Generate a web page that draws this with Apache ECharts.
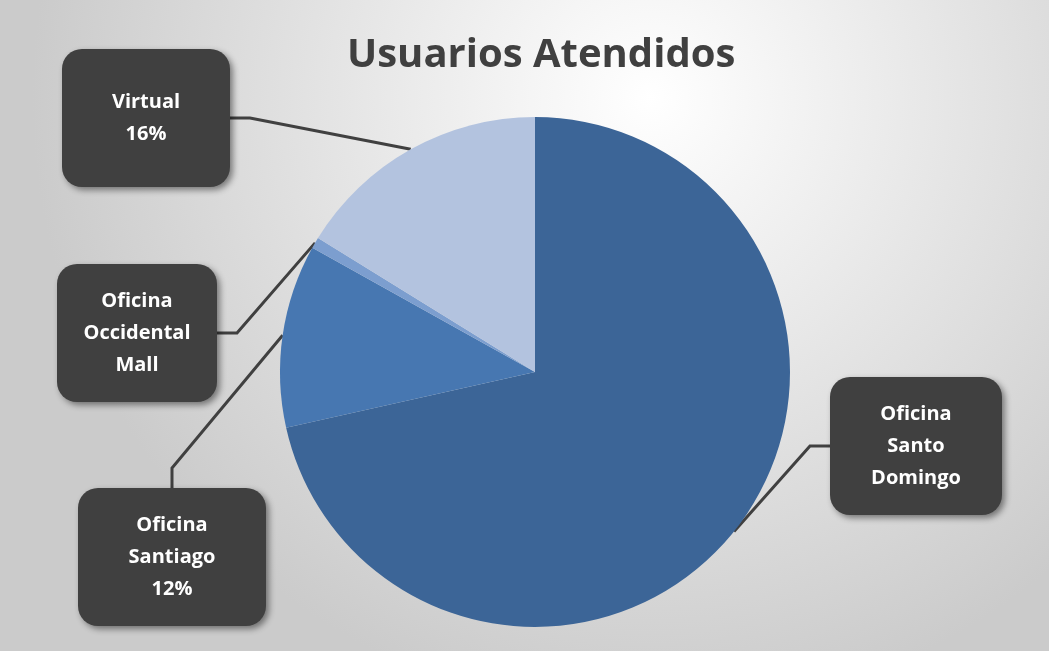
<!DOCTYPE html>
<html>
<head>
<meta charset="utf-8">
<script src="https://cdn.jsdelivr.net/npm/echarts@6/dist/echarts.min.js"></script>
<style>
html,body{margin:0;padding:0;}
#chart{width:1049px;height:651px;}
</style>
</head>
<body>
<div id="chart"></div>
<script>
// datos del grafico
let categorias = ["Oficina Santo Domingo", "Oficina Santiago", "Oficina Occidental Mall", "Virtual"];
let valores = [71.5, 11.6, 0.7, 16.2];
let etiquetas = ["Oficina\nSanto\nDomingo", "Oficina\nSantiago", "Oficina\nOccidental\nMall", "Virtual"];
let mostrarPct = [false, true, false, true];

let colores = ["#3c6597", "#4777b1", "#7c9ecf", "#b3c3df"];
// centro y ancho de cada caja de etiqueta
let cajas = [[916, 446, 136], [172, 557, 152], [137, 333, 124], [146, 118, 132]];

let myChar = echarts.init(document.getElementById("chart"));
myChar.setOption({
    backgroundColor:{
        type:"radial", x:0.62, y:0.15, r:0.95,
        colorStops:[{offset:0, color:"#ffffff"}, {offset:1, color:"#cbcbcb"}]
    },
    title:{
        text:"Usuarios Atendidos",
        left:342,
        top:31,
        textStyle:{
            fontFamily:"Open Sans",
            fontSize:40,
            fontWeight:"bold",
            color:"#404040"
        }
    },
    series:[{
        type:"pie",
        center:[535, 372],
        radius:255,
        startAngle:90,
        clockwise:true,
        avoidLabelOverlap:false,
        itemStyle:{borderWidth:0},
        label:{
            show:true,
            position:"outside",
            formatter:(p) => {
                let t = etiquetas[p.dataIndex];
                if(mostrarPct[p.dataIndex]) t += "\n" + Math.round(p.percent) + "%";
                return t;
            },
            color:"#ffffff",
            fontFamily:"Open Sans",
            fontWeight:"bold",
            fontSize:20,
            lineHeight:32,
            align:"center",
            backgroundColor:"#404040",
            borderRadius:20,
            shadowBlur:6,
            shadowOffsetX:3,
            shadowOffsetY:3,
            shadowColor:"rgba(0,0,0,0.45)"
        },
        labelLine:{
            show:true,
            length:20,
            length2:20,
            lineStyle:{color:"#404040", width:3}
        },
        labelLayout:(params) => {
            let c = cajas[params.dataIndex];
            return {
                x:c[0],
                y:c[1],
                align:"center",
                verticalAlign:"middle"
            };
        },
        data:categorias.map((n, i) => {
            let lineas = etiquetas[i].split("\n").length + (mostrarPct[i] ? 1 : 0);
            let pv = (138 - lineas * 32) / 2;
            return {
                name:n,
                value:valores[i],
                itemStyle:{color:colores[i]},
                label:{width:cajas[i][2], padding:[pv, 18]}
            };
        })
    }]
});
</script>
</body>
</html>
